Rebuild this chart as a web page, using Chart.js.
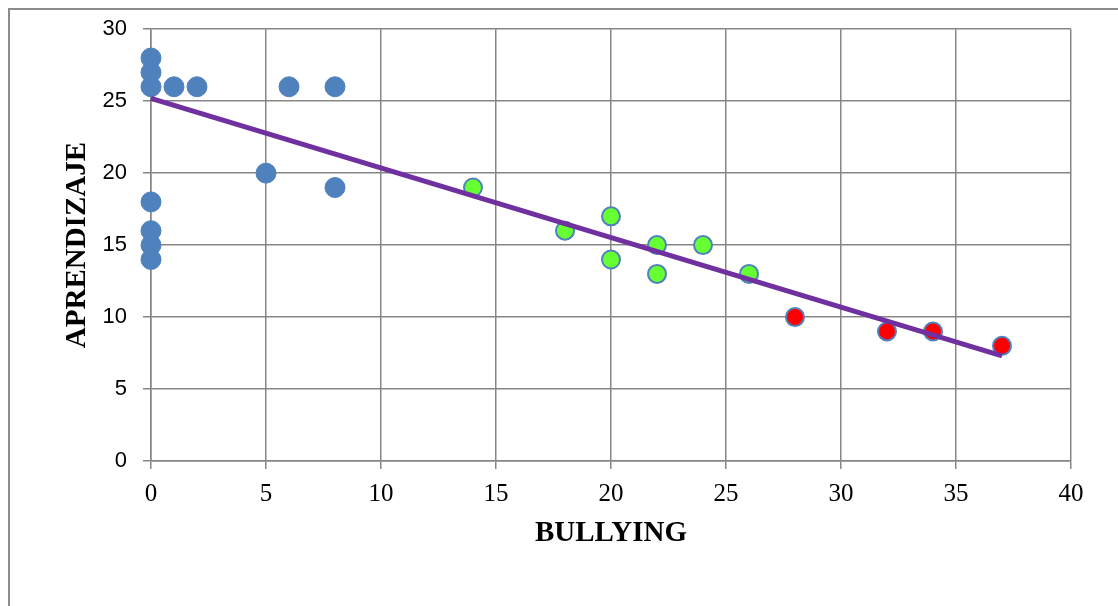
<!DOCTYPE html>
<html>
<head>
<meta charset="utf-8">
<script src="https://cdn.jsdelivr.net/npm/chart.js@4"></script>
<style>
  html, body { margin: 0; padding: 0; background: #fff; }
  #wrap { position: relative; width: 1118px; height: 606px; overflow: hidden; }
  #frame { position: absolute; left: 8px; top: 8px; right: -10px; bottom: -10px;
           border-top: 2px solid #8c8c8c; border-left: 2px solid #8c8c8c; }
  canvas { position: absolute; left: 0; top: 0; }
</style>
</head>
<body>
<div id="wrap">
  <div id="frame"></div>
  <canvas id="c" width="1118" height="606"></canvas>
</div>
<script>
// low bullying group (blue)
const blueX = [0, 0, 0, 1, 2, 6, 8, 5, 8, 0, 0, 0, 0];
const blueY = [28, 27, 26, 26, 26, 26, 26, 20, 19, 18, 16, 15, 14];
// middle group (green)
const greenX = [14, 18, 20, 20, 22, 22, 24, 26];
const greenY = [19, 16, 17, 14, 15, 13, 15, 13];
// high bullying group (red)
const redX = [28, 32, 34, 37];
const redY = [10, 9, 9, 8];
// linear trendline, read at its two ends
const trendX = [0, 37];
const trendY = [25.2, 7.3];

const xTicks = [0, 5, 10, 15, 20, 25, 30, 35, 40];
const yTicks = [0, 5, 10, 15, 20, 25, 30];

const pts = (xs, ys) => xs.map((x, i) => ({ x: x, y: ys[i] }));

const gridColor = '#868686';
const serif = '"Liberation Serif", "Times New Roman", serif';

new Chart(document.getElementById('c'), {
    type: 'scatter',
    data: {
        datasets: [
            {
                type: 'line',
                data: pts(trendX, trendY),
                borderColor: '#7030a0',
                borderWidth: 5,
                pointRadius: 0,
                fill: false,
                order: 0,
            },
            {
                data: pts(blueX, blueY),
                backgroundColor: '#4f81bd',
                borderColor: '#4f81bd',
                borderWidth: 1,
                pointRadius: 10,
                order: 1,
            },
            {
                data: pts(greenX, greenY),
                backgroundColor: '#66ff33',
                borderColor: '#4f81bd',
                borderWidth: 2,
                pointRadius: 9,
                order: 1,
            },
            {
                data: pts(redX, redY),
                backgroundColor: '#ff0000',
                borderColor: '#4f81bd',
                borderWidth: 2,
                pointRadius: 9,
                order: 1,
            },
        ]
    },
    options: {
        responsive: false,
        animation: false,
        clip: false,
        layout: { padding: { left: 0, right: 47, top: 28, bottom: 0 } },
        plugins: { legend: { display: false }, tooltip: { enabled: false } },
        scales: {
            x: {
                type: 'linear',
                min: 0, max: 40,
                afterBuildTicks: s => { s.ticks = xTicks.map(v => ({ value: v })); },
                afterFit: s => { s.height = 145; },
                grid: { color: gridColor, lineWidth: 1.5, tickLength: 8, tickColor: gridColor },
                border: { color: gridColor, width: 1.5 },
                ticks: { color: '#000', padding: 10, font: { family: serif, size: 25 } },
                title: { display: true, text: 'BULLYING', color: '#000',
                         padding: { top: 0, bottom: 55 },
                         font: { family: serif, size: 29, weight: 'bold' } },
            },
            y: {
                type: 'linear',
                min: 0, max: 30,
                afterBuildTicks: s => { s.ticks = yTicks.map(v => ({ value: v })); },
                afterFit: s => { s.width = 151; },
                grid: { color: gridColor, lineWidth: 1.5, tickLength: 8, tickColor: gridColor },
                border: { color: gridColor, width: 1.5 },
                ticks: { color: '#000', padding: 16,
                         font: { family: '"Liberation Sans", Arial, sans-serif', size: 22 } },
                title: { display: true, text: 'APRENDIZAJE', color: '#000',
                         padding: { top: 60, bottom: 0 },
                         font: { family: serif, size: 29, weight: 'bold' } },
            }
        }
    }
});
</script>
</body>
</html>
